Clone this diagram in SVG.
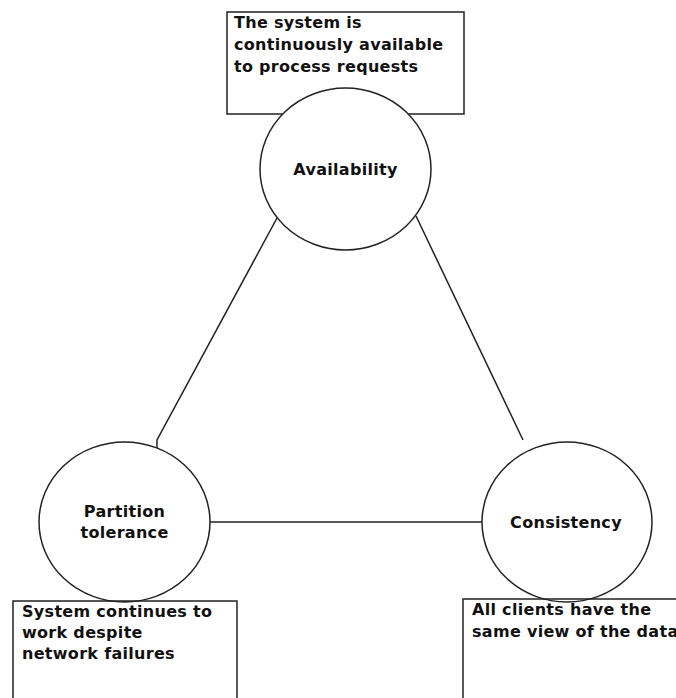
<svg xmlns="http://www.w3.org/2000/svg" width="676" height="698" viewBox="0 0 676 698">
  <style>
    .box { fill: none; stroke: #222; stroke-width: 1.5; }
    .boxw { fill: #fff; stroke: #222; stroke-width: 1.5; }
    .node { fill: #fff; stroke: #222; stroke-width: 1.5; }
    .edge { fill: none; stroke: #222; stroke-width: 1.5; }
    text { font-family: "DejaVu Sans", "Liberation Sans", sans-serif; font-weight: bold; font-size: 16px; fill: #111; letter-spacing: 0.3px; }
    .mid { text-anchor: middle; }
  </style>
  <rect fill="#fff" width="676" height="698"/>

  <!-- note for Availability (sits behind its node) -->
  <g id="note-availability">
    <rect class="boxw" x="227" y="12" width="237" height="102"/>
    <text x="234" y="28">The system is</text>
    <text x="234" y="50">continuously available</text>
    <text x="234" y="72">to process requests</text>
  </g>

  <g id="connectors">
    <polyline class="edge" points="277,218 157,440 157,448"/>
    <line class="edge" x1="416" y1="216" x2="523" y2="440"/>
    <line class="edge" x1="210" y1="522" x2="482" y2="522"/>
  </g>

  <g id="availability">
    <ellipse class="node" cx="345.5" cy="169" rx="85.5" ry="81"/>
    <text class="mid" x="345.5" y="175">Availability</text>
  </g>

  <g id="partition-tolerance">
    <ellipse class="node" cx="124.5" cy="522" rx="85.5" ry="80"/>
    <text class="mid" x="124.5" y="517">Partition</text>
    <text class="mid" x="124.5" y="538">tolerance</text>
  </g>

  <g id="consistency">
    <ellipse class="node" cx="567" cy="522" rx="85" ry="80"/>
    <text class="mid" x="566" y="528">Consistency</text>
  </g>

  <g id="note-partition">
    <rect class="box" x="13" y="601" width="224" height="110"/>
    <text x="22" y="617">System continues to</text>
    <text x="22" y="638">work despite</text>
    <text x="22" y="659">network failures</text>
  </g>

  <g id="note-consistency">
    <rect class="box" x="463" y="599" width="240" height="110"/>
    <text x="472" y="615">All clients have the</text>
    <text x="472" y="637">same view of the data</text>
  </g>
</svg>
